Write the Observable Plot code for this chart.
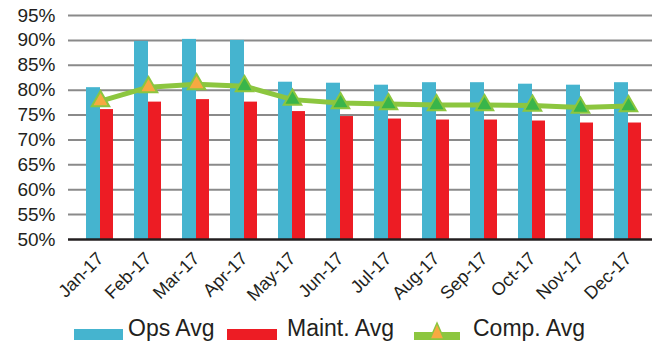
<!DOCTYPE html>
<html>
<head>
<meta charset="utf-8">
<script src="https://cdn.jsdelivr.net/npm/d3@7"></script>
<script src="https://cdn.jsdelivr.net/npm/@observablehq/plot@0.6"></script>
<style>
  body { margin: 0; background: #fff; font-family: "Liberation Sans", Arial, sans-serif; }
  #chart svg { display: block; }
  .legend { position: relative; height: 34px; width: 657px; color: #231F20; }
  .legend .sw { position: absolute; top: 19px; height: 11px; width: 49px; }
  .legend .lab { position: absolute; top: 7px; font-size: 23px; line-height: 23px; white-space: nowrap; }
  .legend svg { position: absolute; top: 10px; }
</style>
</head>
<body>
<div id="chart"></div>
<div class="legend">
  <div class="sw" style="left:74px;background:#45B4CF"></div>
  <div class="lab" style="left:128px">Ops Avg</div>
  <div class="sw" style="left:227px;width:50px;background:#ED1C24"></div>
  <div class="lab" style="left:287px">Maint. Avg</div>
  <svg width="48" height="24" style="left:413px">
    <line x1="1" x2="47" y1="16" y2="16" stroke="#8CC63F" stroke-width="8"/>
    <path d="M24,3 L31,19 L17,19 Z" fill="#F7A941" stroke="#8CC63F" stroke-width="1.5"/>
  </svg>
  <div class="lab" style="left:473px">Comp. Avg</div>
</div>
<script>
// Monthly averages, 2017 (percent)
const months = ["Jan-17", "Feb-17", "Mar-17", "Apr-17", "May-17", "Jun-17",
                "Jul-17", "Aug-17", "Sep-17", "Oct-17", "Nov-17", "Dec-17"];
const opsAvg   = [80.5, 89.8, 90.2, 90.0, 81.6, 81.4, 81.0, 81.5, 81.5, 81.2, 81.0, 81.5];
const maintAvg = [76.1, 77.6, 78.1, 77.6, 75.7, 74.7, 74.2, 74.0, 74.0, 73.8, 73.4, 73.4];
const compAvg  = [77.8, 80.6, 81.2, 80.8, 78.1, 77.4, 77.2, 77.0, 77.0, 76.9, 76.5, 76.8];
const yTicks   = [50, 55, 60, 65, 70, 75, 80, 85, 90, 95];

const rows = months.map((m, i) => ({
  month: m,
  ops: opsAvg[i],
  maint: maintAvg[i],
  comp: compAvg[i],
  q1: i < 3
}));

const BLUE = "#45B4CF", RED = "#ED1C24", LIME = "#8CC63F";
const ORANGE = "#F7A941", GREEN = "#39B54A";

const chart = Plot.plot({
  width: 657,
  height: 310,
  marginLeft: 75,
  marginRight: 5,
  marginTop: 15,
  marginBottom: 71,
  style: { fontFamily: "'Liberation Sans', Arial, sans-serif", color: "#231F20", background: "#fff" },
  x: { type: "band", domain: months, padding: 0, label: null },
  y: { domain: [50, 95], label: null },
  marks: [
    Plot.ruleY(yTicks.slice(1), { stroke: "#8a8a8a", strokeWidth: 2, insetLeft: -7 }),
    Plot.barY(rows, { x: "month", y1: 50, y2: "ops", fill: BLUE, insetLeft: 10, insetRight: 24 }),
    Plot.barY(rows, { x: "month", y1: 50, y2: "maint", fill: RED, insetLeft: 24, insetRight: 11 }),
    Plot.ruleY([50], { stroke: "#231F20", strokeWidth: 2.5, insetLeft: -7 }),
    Plot.lineY(rows, { x: "month", y: "comp", stroke: LIME, strokeWidth: 5, curve: "linear" }),
    Plot.dot(rows, { x: "month", y: "comp", symbol: "triangle", r: 6.5,
                     fill: d => d.q1 ? ORANGE : GREEN, stroke: LIME, strokeWidth: 2 }),
    Plot.axisY({ ticks: yTicks, tickFormat: d => d + "%", tickSize: 0, tickPadding: 20,
                 fontSize: 19, label: null }),
    Plot.axisX({ tickSize: 0, tickRotate: -45, tickPadding: 16, fontSize: 18, label: null })
  ]
});
document.getElementById("chart").appendChild(chart);
</script>
</body>
</html>
